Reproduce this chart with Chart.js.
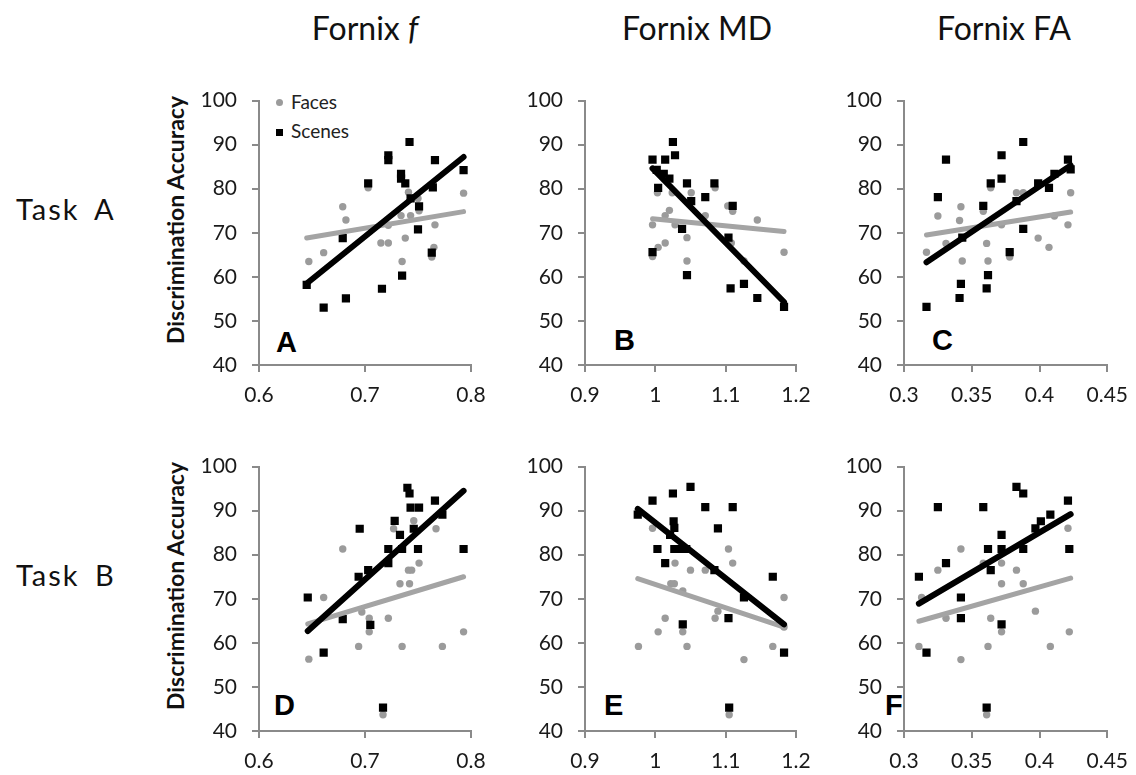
<!DOCTYPE html>
<html>
<head>
<meta charset="utf-8">
<script src="https://cdn.jsdelivr.net/npm/chart.js@4.4.1/dist/chart.umd.min.js"></script>
<style>
  body { margin:0; background:#fff; width:1136px; height:775px; position:relative; overflow:hidden; font-family: Lato, sans-serif; }
  canvas { position:absolute; }
  .txt { position:absolute; white-space:nowrap; line-height:1; color:#111; }
  .title { font-size:32px; transform:translateX(-50%); }
  .task { font-size:29px; letter-spacing:2px; word-spacing:6px; }
  .ylab { font-size:23px; font-weight:bold; transform:translate(-50%,-50%) rotate(-90deg); line-height:1.2; }
  .letter { font-family:"Liberation Sans", Arial, sans-serif; font-weight:bold; font-size:29px; color:#000; }
  .leg { font-size:19px; color:#222; }
</style>
</head>
<body>
<div class="txt title" style="left:365px; top:11.6px;">Fornix <i>f</i></div>
<div class="txt title" style="left:697px; top:11.6px;">Fornix MD</div>
<div class="txt title" style="left:1004px; top:11.6px;">Fornix FA</div>
<div class="txt task" style="left:16px; top:194px;">Task A</div>
<div class="txt task" style="left:16px; top:560px;">Task B</div>
<div class="txt ylab" style="left:176px; top:220px;">Discrimination Accuracy</div>
<div class="txt ylab" style="left:176px; top:586px;">Discrimination Accuracy</div>
<div style="position:absolute; left:275.8px; top:99.2px; width:7px; height:7px; border-radius:50%; background:#9b9b9b;"></div>
<div class="txt leg" style="left:291px; top:91.5px;">Faces</div>
<div style="position:absolute; left:275.8px; top:129.2px; width:7px; height:7px; background:#000;"></div>
<div class="txt leg" style="left:291px; top:121px;">Scenes</div>
<div class="txt letter" style="left:276px; top:327.5px;">A</div>
<div class="txt letter" style="left:614px; top:325.5px;">B</div>
<div class="txt letter" style="left:932px; top:325.5px;">C</div>
<div class="txt letter" style="left:274px; top:690.5px;">D</div>
<div class="txt letter" style="left:604px; top:690.5px;">E</div>
<div class="txt letter" style="left:885px; top:690.5px;">F</div>

<script>
// Tick labels
const yTicks = [40, 50, 60, 70, 80, 90, 100];
const xTicksF = [0.6, 0.7, 0.8];
const xTicksMD = [0.9, 1, 1.1, 1.2];
const xTicksFA = [0.3, 0.35, 0.4, 0.45];

// Panel A - Task A, Fornix f
const aFacesX = [0.647,0.661,0.679,0.682,0.703,0.715,0.722,0.722,0.735,0.738,0.734,0.743,0.741,0.751,0.766,0.765,0.763,0.793,0.750];
const aFacesY = [63.5,65.5,75.9,72.9,80.2,67.7,67.7,71.7,63.5,68.8,73.9,73.9,79.2,75.0,71.8,66.7,64.5,79.0,77.8];
const aScenesX = [0.645,0.661,0.682,0.679,0.703,0.716,0.722,0.722,0.735,0.734,0.734,0.738,0.742,0.743,0.751,0.750,0.764,0.766,0.763,0.793];
const aScenesY = [58.2,53.0,55.1,68.8,81.2,57.3,87.6,86.5,60.3,83.4,82.3,81.2,90.6,77.8,76.0,70.8,80.3,86.5,65.5,84.2];
const aFitX = [0.645, 0.793];
const aFacesFit = [68.8, 74.8];
const aScenesFit = [58.5, 87.2];

// Panel B - Task A, Fornix MD
const bFacesX = [0.996,0.996,1.004,1.014,1.003,1.014,1.020,1.028,1.024,1.051,1.045,1.045,1.071,1.085,1.103,1.110,1.108,1.145,1.183,1.126];
const bFacesY = [71.8,64.6,66.7,67.7,79.1,73.9,75.1,71.8,79.1,79.1,68.9,63.6,73.9,80.2,76.1,74.9,67.7,72.9,65.6,63.6];
const bScenesX = [0.996,1.014,1.025,1.028,1.002,1.012,1.020,1.004,1.045,1.051,1.071,1.084,1.038,1.045,0.996,1.104,1.110,1.107,1.126,1.145,1.183];
const bScenesY = [86.6,86.6,90.6,87.6,84.3,83.4,82.3,80.2,81.2,77.2,78.1,81.2,70.9,60.4,65.6,68.9,76.1,57.4,58.4,55.2,53.2];
const bFitX = [0.996, 1.183];
const bFacesFit = [73.2, 70.3];
const bScenesFit = [84.6, 54.3];

// Panel C - Task A, Fornix FA
const cFacesX = [0.3166,0.325,0.331,0.341,0.342,0.343,0.3585,0.361,0.362,0.364,0.372,0.378,0.383,0.388,0.399,0.407,0.411,0.421,0.423];
const cFacesY = [65.6,73.8,67.6,72.8,75.9,63.6,74.9,67.6,63.6,80.2,71.8,64.5,79.1,79.1,68.8,66.7,73.8,71.8,79.1];
const cScenesX = [0.3166,0.325,0.331,0.341,0.342,0.343,0.3585,0.361,0.362,0.364,0.372,0.372,0.378,0.383,0.388,0.388,0.399,0.407,0.411,0.421,0.423];
const cScenesY = [53.2,78.1,86.6,55.2,58.4,68.9,76.1,57.4,60.4,81.2,87.6,82.3,65.6,77.2,90.6,70.9,81.2,80.2,83.4,86.6,84.4];
const cFitX = [0.3166, 0.423];
const cFacesFit = [69.5, 74.7];
const cScenesFit = [63.3, 85.3];

// Panel D - Task B, Fornix f
const dFacesX = [0.647,0.661,0.679,0.694,0.697,0.704,0.704,0.722,0.727,0.735,0.733,0.742,0.741,0.744,0.746,0.751,0.767,0.773,0.793,0.717];
const dFacesY = [56.3,70.3,81.3,59.2,67.0,65.6,62.5,65.6,85.9,59.2,73.4,73.4,76.5,76.5,87.7,78.1,85.9,59.2,62.5,43.7];
const dScenesX = [0.646,0.661,0.679,0.695,0.694,0.703,0.705,0.722,0.722,0.728,0.733,0.735,0.740,0.742,0.743,0.751,0.746,0.750,0.766,0.773,0.793,0.717];
const dScenesY = [70.3,57.8,65.4,85.9,75.0,76.5,64.1,78.1,81.3,87.7,84.5,81.3,95.2,93.9,90.7,90.7,85.9,81.3,92.3,89.1,81.3,45.3];
const dFitX = [0.646, 0.793];
const dFacesFit = [64.3, 75.0];
const dScenesFit = [62.7, 94.5];

// Panel E - Task B, Fornix MD
const eFacesX = [0.976,0.996,1.004,1.014,1.022,1.027,1.039,1.039,1.045,1.028,1.050,1.071,1.089,1.085,1.104,1.110,1.126,1.167,1.183,1.183,1.105];
const eFacesY = [59.2,86.0,62.5,65.6,73.4,73.4,71.8,62.5,59.2,78.1,76.5,76.5,67.2,65.6,81.3,78.1,56.2,59.2,70.3,63.6,43.7];
const eScenesX = [0.975,0.996,1.025,1.050,1.026,1.027,1.021,1.003,1.027,1.034,1.044,1.014,1.071,1.089,1.110,1.084,1.126,1.104,1.039,1.167,1.183,1.105];
const eScenesY = [89.1,92.3,93.9,95.4,87.6,86.1,84.5,81.3,81.3,81.3,81.3,78.1,90.8,86.0,90.8,76.5,70.3,65.6,64.2,75.0,57.8,45.3];
const eFitX = [0.975, 1.183];
const eFacesFit = [74.6, 63.6];
const eScenesFit = [90.4, 64.2];

// Panel F - Task B, Fornix FA
const fFacesX = [0.311,0.313,0.325,0.331,0.342,0.342,0.3585,0.362,0.364,0.372,0.372,0.372,0.383,0.388,0.397,0.408,0.421,0.422,0.361];
const fFacesY = [59.2,70.3,76.5,65.6,81.3,56.2,78.1,59.2,65.6,78.1,73.4,62.5,76.5,73.4,67.2,59.2,86.0,62.5,43.7];
const fScenesX = [0.311,0.3166,0.325,0.331,0.342,0.342,0.3585,0.362,0.364,0.372,0.372,0.372,0.383,0.388,0.388,0.397,0.401,0.408,0.421,0.422,0.361];
const fScenesY = [75.0,57.8,90.8,78.1,70.3,65.6,90.8,81.3,76.5,81.3,84.5,64.2,95.4,93.9,81.3,86.0,87.6,89.1,92.3,81.3,45.3];
const fFitX = [0.311, 0.423];
const fFacesFit = [64.9, 74.7];
const fScenesFit = [68.9, 89.2];

// Panel table (plot area in page pixels)
const panels = [
  { box: [259, 471, 87, 365],  xt: xTicksF,  fx: aFacesX, fy: aFacesY, sx: aScenesX, sy: aScenesY, lx: aFitX, lf: aFacesFit, ls: aScenesFit },
  { box: [585, 796, 87, 365],  xt: xTicksMD, fx: bFacesX, fy: bFacesY, sx: bScenesX, sy: bScenesY, lx: bFitX, lf: bFacesFit, ls: bScenesFit },
  { box: [904, 1109, 87, 365], xt: xTicksFA, fx: cFacesX, fy: cFacesY, sx: cScenesX, sy: cScenesY, lx: cFitX, lf: cFacesFit, ls: cScenesFit },
  { box: [259, 471, 453, 731], xt: xTicksF,  fx: dFacesX, fy: dFacesY, sx: dScenesX, sy: dScenesY, lx: dFitX, lf: dFacesFit, ls: dScenesFit },
  { box: [585, 796, 453, 731], xt: xTicksMD, fx: eFacesX, fy: eFacesY, sx: eScenesX, sy: eScenesY, lx: eFitX, lf: eFacesFit, ls: eScenesFit },
  { box: [904, 1109, 453, 731], xt: xTicksFA, fx: fFacesX, fy: fFacesY, sx: fScenesX, sy: fScenesY, lx: fFitX, lf: fFacesFit, ls: fScenesFit }
];

const YW = 80, XH = 50, PAD_TOP = 14, PAD_RIGHT = 30;
const AXIS = '#8a8a8a';
const tickFont = { family: 'Lato', size: 21 };

const pts = (xs, ys) => xs.map((x, i) => ({ x: x, y: ys[i] }));

function makePanel(p) {
  const [l, r, t, b] = p.box;
  const canvas = document.createElement('canvas');
  const w = YW + (r - l) + PAD_RIGHT;
  const h = PAD_TOP + (b - t) + XH;
  canvas.width = w; canvas.height = h;
  canvas.style.left = (l - YW) + 'px';
  canvas.style.top = (t - PAD_TOP) + 'px';
  canvas.style.width = w + 'px';
  canvas.style.height = h + 'px';
  document.body.appendChild(canvas);

  new Chart(canvas.getContext('2d'), {
    type: 'scatter',
    data: {
      datasets: [
        { label: 'Faces', data: pts(p.fx, p.fy), pointStyle: 'circle', pointRadius: 3.7,
          backgroundColor: '#9b9b9b', borderWidth: 0, order: 4 },
        { label: 'Scenes', data: pts(p.sx, p.sy), pointStyle: 'rect', pointRadius: 5.8,
          backgroundColor: '#000', borderWidth: 0, order: 3 },
        { label: 'Faces fit', data: pts(p.lx, p.lf), showLine: true, pointRadius: 0,
          borderColor: '#a4a4a4', borderWidth: 5, borderCapStyle: 'round', order: 2 },
        { label: 'Scenes fit', data: pts(p.lx, p.ls), showLine: true, pointRadius: 0,
          borderColor: '#000', borderWidth: 6, borderCapStyle: 'round', order: 1 }
      ]
    },
    options: {
      responsive: false,
      animation: false,
      devicePixelRatio: 1,
      layout: { padding: { top: PAD_TOP, right: PAD_RIGHT, left: 0, bottom: 0 } },
      plugins: { legend: { display: false }, tooltip: { enabled: false } },
      scales: {
        x: {
          type: 'linear', min: p.xt[0], max: p.xt[p.xt.length - 1],
          afterBuildTicks: a => { a.ticks = p.xt.map(v => ({ value: v })); },
          afterFit: s => { s.height = XH; },
          grid: { drawOnChartArea: false, drawTicks: true, tickLength: 7, color: AXIS, lineWidth: 2 },
          border: { color: AXIS, width: 2 },
          ticks: { color: '#1a1a1a', font: tickFont, padding: 11, maxRotation: 0, autoSkip: false,
                   callback: v => String(v) }
        },
        y: {
          type: 'linear', min: yTicks[0], max: yTicks[yTicks.length - 1],
          afterBuildTicks: a => { a.ticks = yTicks.map(v => ({ value: v })); },
          afterFit: s => { s.width = YW; },
          grid: { drawOnChartArea: false, drawTicks: true, tickLength: 7, color: AXIS, lineWidth: 2 },
          border: { color: AXIS, width: 2 },
          ticks: { color: '#1a1a1a', font: tickFont, padding: 15, callback: v => String(v) }
        }
      }
    }
  });
}

panels.forEach(makePanel);
</script>
</body>
</html>
